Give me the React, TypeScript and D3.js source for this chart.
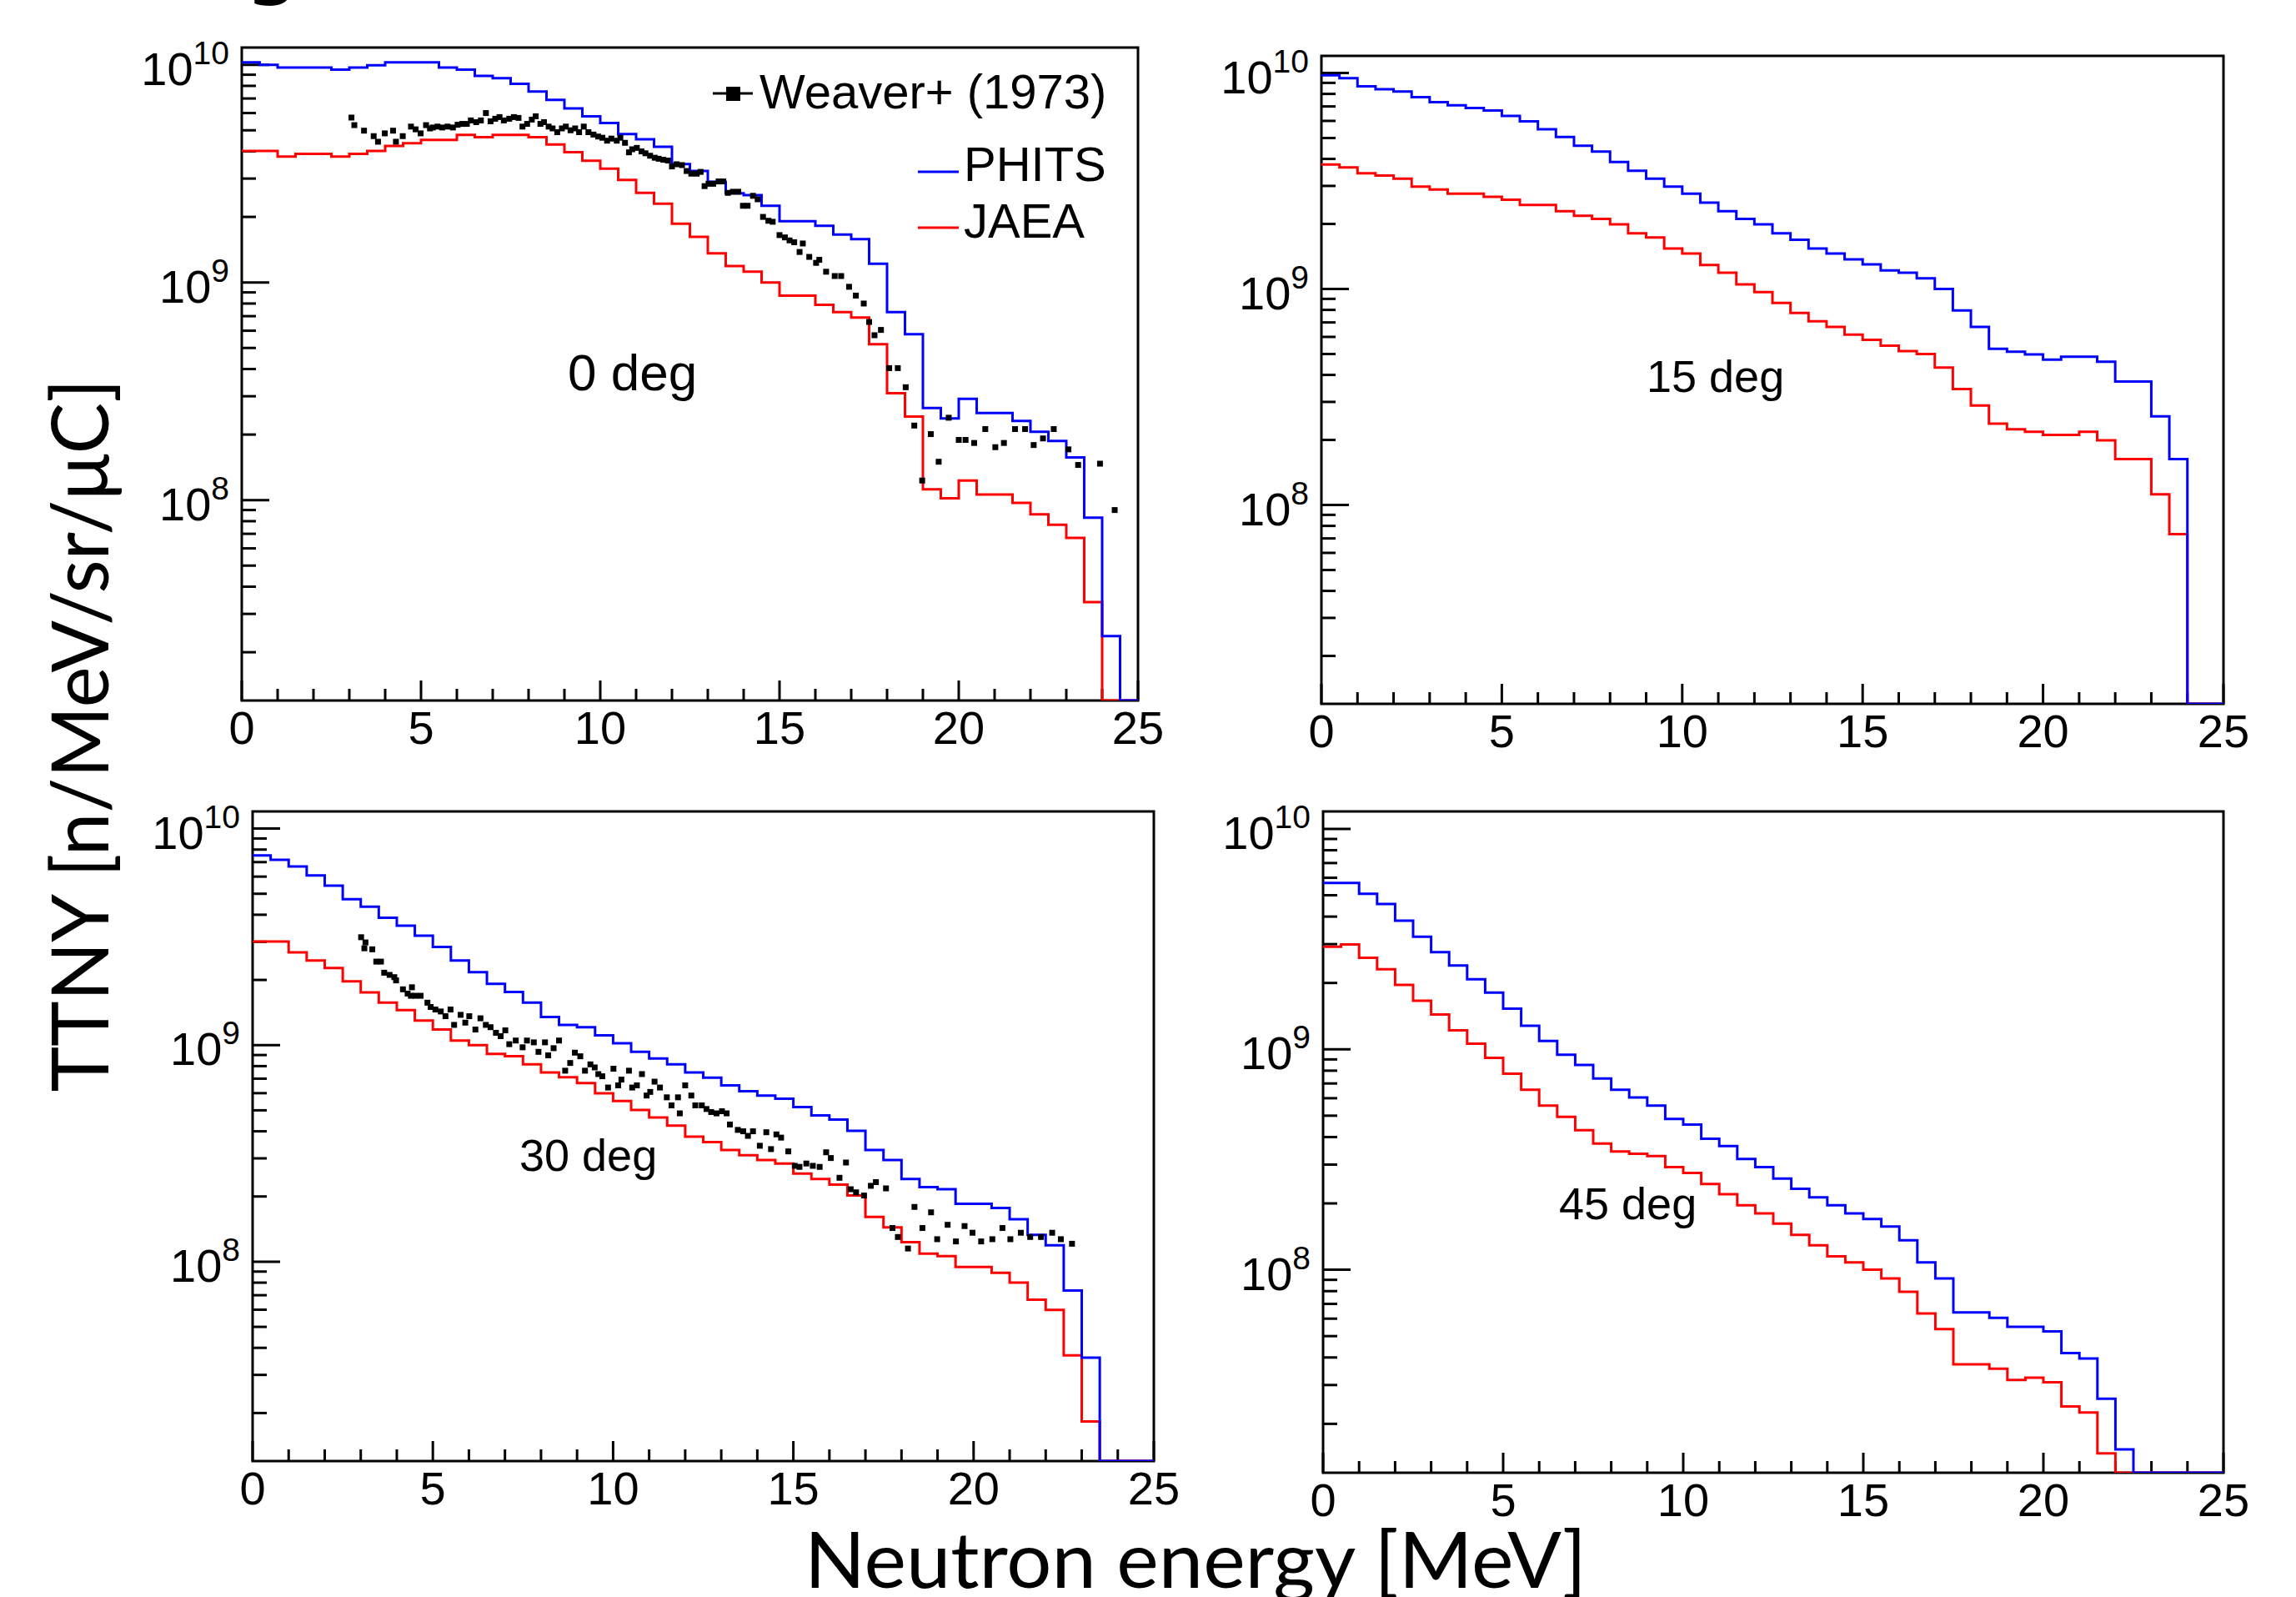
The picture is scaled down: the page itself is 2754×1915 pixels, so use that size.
import React, { useEffect } from 'react';
import * as d3 from 'd3';

// ---------------- data ----------------
const BIN_WIDTH = 0.5; // MeV
const E_DOMAIN: [number, number] = [0, 25];
const Y_DOMAIN: [number, number] = [1.2e7, 1.2e10];

const xMajorTicks = [0, 5, 10, 15, 20, 25];
const xTickLabels = ['0', '5', '10', '15', '20', '25'];
const xMinorTicks = [1, 2, 3, 4, 6, 7, 8, 9, 11, 12, 13, 14, 16, 17, 18, 19, 21, 22, 23, 24];
const yMajorExponents = [8, 9, 10];
const yMinorMultipliers = [2, 3, 4, 5, 6, 7, 8, 9];
const yMinorDecades = [1e7, 1e8, 1e9];

const angleLabels = ['0 deg', '15 deg', '30 deg', '45 deg'];
const legendLabels = ['Weaver+ (1973)', 'PHITS', 'JAEA'];
const xTitle = 'Neutron energy [MeV]';
const yTitle = 'TTNY [n/MeV/sr/\u03bcC]';

// 50 bins of 0.5 MeV, 0 = empty bin
const phits0 = [1.027e10, 1.0e10, 9.7e9, 9.7e9, 9.7e9, 9.5e9, 9.7e9, 9.95e9, 1.027e10, 1.027e10,
  1.027e10, 9.7e9, 9.5e9, 8.9e9, 8.67e9, 8.17e9, 7.53e9, 6.9e9, 6.3e9, 5.8e9,
  5.4e9, 4.8e9, 4.55e9, 4.2e9, 3.5e9, 3.25e9, 2.9e9, 2.57e9, 2.52e9, 2.25e9,
  1.91e9, 1.91e9, 1.82e9, 1.66e9, 1.58e9, 1.22e9, 7.3e8, 5.78e8, 2.65e8, 2.37e8,
  2.92e8, 2.51e8, 2.51e8, 2.31e8, 2.06e8, 1.87e8, 1.57e8, 8.3e7, 2.37e7, 0];
const jaea0 = [4.02e9, 4.02e9, 3.79e9, 3.9e9, 3.9e9, 3.79e9, 3.9e9, 4.02e9, 4.24e9, 4.36e9,
  4.52e9, 4.52e9, 4.76e9, 4.65e9, 4.76e9, 4.76e9, 4.65e9, 4.3e9, 3.97e9, 3.62e9,
  3.33e9, 2.96e9, 2.58e9, 2.3e9, 1.86e9, 1.62e9, 1.36e9, 1.19e9, 1.12e9, 1.0e9,
  8.7e8, 8.7e8, 7.9e8, 7.3e8, 6.9e8, 5.2e8, 3.1e8, 2.42e8, 1.12e8, 1.02e8,
  1.23e8, 1.06e8, 1.06e8, 9.7e7, 8.6e7, 7.7e7, 6.7e7, 3.4e7, 0, 0];

const phits15 = [9.75e9, 9.46e9, 8.67e9, 8.4e9, 8.2e9, 7.73e9, 7.33e9, 7.09e9, 6.89e9, 6.7e9,
  6.33e9, 5.97e9, 5.49e9, 5.05e9, 4.6e9, 4.33e9, 3.87e9, 3.53e9, 3.24e9, 2.98e9,
  2.76e9, 2.51e9, 2.29e9, 2.11e9, 1.99e9, 1.81e9, 1.69e9, 1.54e9, 1.46e9, 1.37e9,
  1.3e9, 1.22e9, 1.19e9, 1.12e9, 1.0e9, 7.96e8, 6.67e8, 5.28e8, 5.12e8, 4.98e8,
  4.71e8, 4.86e8, 4.86e8, 4.6e8, 3.73e8, 3.73e8, 2.57e8, 1.63e8, 0, 0];
const jaea15 = [3.77e9, 3.65e9, 3.43e9, 3.35e9, 3.24e9, 2.98e9, 2.89e9, 2.76e9, 2.76e9, 2.67e9,
  2.59e9, 2.45e9, 2.45e9, 2.29e9, 2.18e9, 2.11e9, 1.99e9, 1.81e9, 1.73e9, 1.54e9,
  1.46e9, 1.29e9, 1.19e9, 1.05e9, 9.68e8, 8.61e8, 7.74e8, 7.09e8, 6.67e8, 6.14e8,
  5.81e8, 5.46e8, 5.16e8, 5.0e8, 4.33e8, 3.44e8, 2.89e8, 2.38e8, 2.24e8, 2.18e8,
  2.11e8, 2.11e8, 2.18e8, 1.99e8, 1.63e8, 1.63e8, 1.12e8, 7.33e7, 0, 0];

const phits30 = [7.52e9, 7.18e9, 6.68e9, 6.08e9, 5.45e9, 4.72e9, 4.36e9, 3.87e9, 3.56e9, 3.2e9,
  2.84e9, 2.46e9, 2.17e9, 1.92e9, 1.76e9, 1.57e9, 1.35e9, 1.24e9, 1.21e9, 1.11e9,
  1.02e9, 9.31e8, 8.67e8, 8.15e8, 7.48e8, 7.07e8, 6.52e8, 6.13e8, 5.85e8, 5.66e8,
  5.17e8, 4.74e8, 4.53e8, 4.02e8, 3.28e8, 2.95e8, 2.41e8, 2.21e8, 2.16e8, 1.85e8,
  1.85e8, 1.77e8, 1.57e8, 1.33e8, 1.19e8, 7.35e7, 3.6e7, 0, 0, 0];
const jaea30 = [3.01e9, 3.01e9, 2.68e9, 2.46e9, 2.27e9, 1.97e9, 1.75e9, 1.57e9, 1.45e9, 1.3e9,
  1.18e9, 1.05e9, 1.0e9, 9.1e8, 8.88e8, 8.15e8, 7.48e8, 7.1e8, 6.68e8, 5.99e8,
  5.52e8, 5.02e8, 4.63e8, 4.25e8, 3.78e8, 3.57e8, 3.28e8, 3.1e8, 2.95e8, 2.84e8,
  2.55e8, 2.41e8, 2.27e8, 2.02e8, 1.61e8, 1.44e8, 1.23e8, 1.09e8, 1.06e8, 9.45e7,
  9.45e7, 8.88e7, 8.0e7, 6.68e7, 5.99e7, 3.69e7, 1.83e7, 0, 0, 0];

const phits45 = [5.69e9, 5.69e9, 5.08e9, 4.56e9, 3.83e9, 3.24e9, 2.76e9, 2.4e9, 2.08e9, 1.81e9,
  1.53e9, 1.28e9, 1.09e9, 9.46e8, 8.49e8, 7.37e8, 6.55e8, 6.05e8, 5.56e8, 4.83e8,
  4.56e8, 3.93e8, 3.64e8, 3.18e8, 2.92e8, 2.59e8, 2.33e8, 2.13e8, 1.96e8, 1.8e8,
  1.7e8, 1.57e8, 1.36e8, 1.08e8, 9.14e7, 6.4e7, 6.4e7, 6.05e7, 5.51e7, 5.51e7,
  5.25e7, 4.19e7, 3.96e7, 2.6e7, 1.53e7, 0, 0, 0, 0, 0];
const jaea45 = [2.92e9, 2.99e9, 2.6e9, 2.31e9, 1.96e9, 1.66e9, 1.44e9, 1.22e9, 1.06e9, 9.14e8,
  7.76e8, 6.55e8, 5.56e8, 4.94e8, 4.3e8, 3.74e8, 3.44e8, 3.36e8, 3.28e8, 2.92e8,
  2.75e8, 2.45e8, 2.2e8, 1.96e8, 1.8e8, 1.62e8, 1.44e8, 1.29e8, 1.15e8, 1.08e8,
  1.0e8, 9.14e7, 7.94e7, 6.34e7, 5.38e7, 3.72e7, 3.72e7, 3.56e7, 3.16e7, 3.24e7,
  3.09e7, 2.4e7, 2.25e7, 1.47e7, 0, 0, 0, 0, 0, 0];

// Weaver+ (1973) measured points: [energy MeV, yield]
const weaver0: [number, number][] = [
  [3.06, 5.72e9], [3.14, 5.28e9], [3.41, 4.98e9], [3.68, 4.7e9], [3.8, 4.43e9], [3.99, 4.84e9],
  [4.22, 4.98e9], [4.3, 4.43e9], [4.49, 4.7e9], [4.72, 5.2e9], [4.85, 5.05e9], [4.99, 4.84e9],
  [5.14, 5.28e9], [5.25, 5.1e9], [5.33, 5.15e9], [5.46, 5.2e9], [5.59, 5.15e9], [5.74, 5.2e9],
  [5.89, 5.15e9], [6.02, 5.3e9], [6.15, 5.35e9], [6.28, 5.35e9], [6.39, 5.55e9], [6.54, 5.45e9],
  [6.67, 5.55e9], [6.81, 6.0e9], [6.94, 5.5e9], [7.07, 5.65e9], [7.19, 5.75e9], [7.31, 5.55e9],
  [7.46, 5.65e9], [7.59, 5.75e9], [7.72, 5.7e9], [7.83, 5.2e9], [7.96, 5.35e9], [8.09, 5.6e9],
  [8.2, 5.8e9], [8.33, 5.35e9], [8.43, 5.45e9], [8.56, 5.2e9], [8.67, 5.1e9], [8.8, 4.9e9],
  [8.93, 5.1e9], [9.04, 5.2e9], [9.17, 5.0e9], [9.3, 5.1e9], [9.41, 4.9e9], [9.54, 5.2e9],
  [9.67, 4.9e9], [9.81, 4.78e9], [9.94, 4.68e9], [10.06, 4.62e9], [10.19, 4.48e9], [10.31, 4.58e9],
  [10.46, 4.48e9], [10.56, 4.62e9], [10.69, 4.38e9], [10.8, 3.96e9], [10.89, 4.09e9], [11.02, 4.15e9],
  [11.15, 4.0e9], [11.26, 3.92e9], [11.39, 3.82e9], [11.52, 3.74e9], [11.63, 3.7e9], [11.76, 3.66e9],
  [11.89, 3.63e9], [12.0, 3.41e9], [12.13, 3.49e9], [12.28, 3.46e9], [12.41, 3.25e9], [12.54, 3.16e9],
  [12.69, 3.16e9], [12.8, 3.22e9], [12.91, 2.77e9], [13.02, 2.84e9], [13.15, 2.84e9], [13.3, 2.91e9],
  [13.43, 2.91e9], [13.56, 2.58e9], [13.7, 2.61e9], [13.85, 2.61e9], [13.98, 2.25e9], [14.11, 2.25e9],
  [14.26, 2.5e9], [14.39, 2.41e9], [14.54, 2.0e9], [14.69, 1.92e9], [14.81, 1.9e9], [15.0, 1.65e9],
  [15.15, 1.61e9], [15.28, 1.56e9], [15.41, 1.53e9], [15.56, 1.38e9], [15.65, 1.51e9], [15.83, 1.31e9],
  [16.02, 1.23e9], [16.11, 1.27e9], [16.3, 1.12e9], [16.54, 1.07e9], [16.72, 1.07e9], [16.94, 9.55e8],
  [17.13, 8.7e8], [17.35, 8.0e8], [17.5, 6.58e8], [17.65, 5.72e8], [17.83, 6.05e8], [18.06, 4.04e8],
  [18.3, 4.04e8], [18.52, 3.3e8], [18.76, 2.2e8], [18.98, 1.23e8], [19.22, 2.01e8], [19.44, 1.5e8],
  [19.72, 2.39e8], [20.0, 1.89e8], [20.19, 1.89e8], [20.43, 1.83e8], [20.74, 2.12e8], [21.02, 1.75e8],
  [21.26, 1.83e8], [21.57, 2.12e8], [21.85, 2.12e8], [22.09, 1.79e8], [22.35, 1.92e8], [22.65, 2.12e8],
  [23.06, 1.71e8], [23.33, 1.45e8], [23.94, 1.47e8], [24.35, 9.0e7]];

const weaver30: [number, number][] = [
  [3.01, 3.15e9], [3.13, 2.98e9], [3.10, 2.8e9], [3.32, 2.77e9], [3.43, 2.43e9], [3.56, 2.43e9],
  [3.65, 2.16e9], [3.80, 2.11e9], [3.93, 2.06e9], [3.98, 1.99e9], [4.17, 1.81e9], [4.3, 1.73e9],
  [4.42, 1.85e9], [4.39, 1.69e9], [4.52, 1.69e9], [4.66, 1.69e9], [4.85, 1.57e9], [4.94, 1.5e9],
  [5.07, 1.46e9], [5.22, 1.43e9], [5.35, 1.36e9], [5.49, 1.46e9], [5.59, 1.24e9], [5.77, 1.38e9],
  [5.9, 1.27e9], [6.01, 1.36e9], [6.18, 1.18e9], [6.32, 1.33e9], [6.47, 1.24e9], [6.6, 1.21e9],
  [6.75, 1.14e9], [6.88, 1.1e9], [7.01, 1.17e9], [7.12, 1.01e9], [7.3, 1.05e9], [7.49, 9.77e8],
  [7.61, 1.05e9], [7.8, 1.03e9], [7.93, 9.31e8], [8.11, 1.03e9], [8.2, 8.97e8], [8.35, 9.68e8],
  [8.5, 1.05e9], [8.67, 7.62e8], [8.81, 8.27e8], [8.94, 9.23e8], [9.09, 8.88e8], [9.22, 7.62e8],
  [9.37, 8.15e8], [9.49, 7.89e8], [9.59, 7.35e8], [9.7, 7.18e8], [9.86, 6.37e8], [10.01, 7.78e8],
  [10.14, 6.52e8], [10.23, 6.93e8], [10.44, 7.62e8], [10.53, 6.37e8], [10.66, 6.52e8], [10.8, 7.35e8],
  [10.93, 5.85e8], [11.03, 6.08e8], [11.15, 6.78e8], [11.3, 6.37e8], [11.49, 5.74e8], [11.62, 5.27e8],
  [11.8, 5.74e8], [11.85, 4.84e8], [12.0, 6.52e8], [12.17, 5.85e8], [12.28, 5.27e8], [12.46, 5.27e8],
  [12.59, 5.07e8], [12.72, 4.91e8], [12.87, 4.84e8], [13.02, 4.95e8], [13.15, 4.84e8], [13.24, 4.3e8],
  [13.46, 4.06e8], [13.61, 4.0e8], [13.74, 3.81e8], [13.88, 4.0e8], [14.07, 3.43e8], [14.25, 3.96e8],
  [14.38, 3.31e8], [14.53, 3.87e8], [14.66, 3.74e8], [14.86, 3.23e8], [15.04, 2.77e8], [15.17, 2.74e8],
  [15.36, 2.84e8], [15.54, 2.77e8], [15.73, 2.74e8], [15.91, 3.2e8], [16.04, 3.01e8], [16.28, 2.44e8],
  [16.46, 2.87e8], [16.59, 2.16e8], [16.74, 2.09e8], [16.96, 2.02e8], [17.15, 2.24e8], [17.29, 2.33e8],
  [17.57, 2.18e8], [17.75, 1.43e8], [17.9, 1.3e8], [18.18, 1.15e8], [18.36, 1.79e8], [18.58, 1.43e8],
  [18.82, 1.69e8], [18.99, 1.27e8], [19.28, 1.48e8], [19.51, 1.24e8], [19.75, 1.46e8], [19.97, 1.36e8],
  [20.21, 1.24e8], [20.52, 1.27e8], [20.8, 1.43e8], [21.02, 1.27e8], [21.31, 1.36e8], [21.57, 1.3e8],
  [21.87, 1.3e8], [22.18, 1.36e8], [22.42, 1.27e8], [22.73, 1.21e8]];

// ---------------- layout ----------------
const W = 2754;
const H = 1915;
const BLUE = '#0000ff';
const RED = '#ff0000';
const TICK_FONT = "'Liberation Sans', Arial, Helvetica, sans-serif";
const TITLE_FONT = "Lato, 'Noto Sans', sans-serif";

type PanelCfg = {
  left: number; right: number; top: number; bottom: number;
  labelX: number; labelY: number; labelSize: number;
  phits: number[]; jaea: number[]; weaver: [number, number][] | null; legend: boolean;
};

const panels: PanelCfg[] = [
  { left: 290, right: 1365, top: 57, bottom: 840, labelX: 681, labelY: 468, labelSize: 62, phits: phits0, jaea: jaea0, weaver: weaver0, legend: true },
  { left: 1585, right: 2667, top: 67, bottom: 844, labelX: 1975, labelY: 470, labelSize: 54, phits: phits15, jaea: jaea15, weaver: null, legend: false },
  { left: 303, right: 1384, top: 973, bottom: 1752, labelX: 623, labelY: 1404, labelSize: 54, phits: phits30, jaea: jaea30, weaver: weaver30, legend: false },
  { left: 1587, right: 2667, top: 973, bottom: 1766, labelX: 1870, labelY: 1462, labelSize: 54, phits: phits45, jaea: jaea45, weaver: null, legend: false },
];

function histPath(vals: number[], x: d3.ScaleLinear<number, number>, y: d3.ScaleLogarithmic<number, number>) {
  const pts: [number, number][] = vals.map((v, i) => [i * BIN_WIDTH, v]);
  pts.push([E_DOMAIN[1], vals[vals.length - 1]]);
  const line = d3.line<[number, number]>()
    .x(d => x(d[0]))
    .y(d => y(d[1] > 0 ? d[1] : Y_DOMAIN[0] * 0.5))
    .curve(d3.curveStepAfter);
  return line(pts) || '';
}

function Panel({ cfg, idx }: { cfg: PanelCfg; idx: number }) {
  const x = d3.scaleLinear().domain(E_DOMAIN).range([cfg.left, cfg.right]);
  const y = d3.scaleLog().domain(Y_DOMAIN).range([cfg.bottom, cfg.top]).clamp(true);
  const clipId = `clip-${idx}`;
  const minorY: number[] = [];
  yMinorDecades.forEach(d => yMinorMultipliers.forEach(m => {
    const v = d * m;
    if (v > Y_DOMAIN[0] && v < Y_DOMAIN[1]) minorY.push(v);
  }));
  return (
    <g>
      <defs>
        <clipPath id={clipId}>
          <rect x={cfg.left} y={cfg.top} width={cfg.right - cfg.left} height={cfg.bottom - cfg.top} />
        </clipPath>
      </defs>
      {/* frame */}
      <rect x={cfg.left} y={cfg.top} width={cfg.right - cfg.left} height={cfg.bottom - cfg.top}
        fill="none" stroke="#000" strokeWidth={3} />
      {/* x ticks */}
      {xMajorTicks.map(t => (
        <line key={`xM${t}`} x1={x(t)} x2={x(t)} y1={cfg.bottom} y2={cfg.bottom - 24} stroke="#000" strokeWidth={3} />
      ))}
      {xMinorTicks.map(t => (
        <line key={`xm${t}`} x1={x(t)} x2={x(t)} y1={cfg.bottom} y2={cfg.bottom - 14} stroke="#000" strokeWidth={3} />
      ))}
      {xMajorTicks.map((t, i) => (
        <text key={`xl${t}`} x={x(t)} y={cfg.bottom + 52} textAnchor="middle" fontFamily={TICK_FONT} fontSize={56}>
          {xTickLabels[i]}
        </text>
      ))}
      {/* y ticks */}
      {yMajorExponents.map(e => (
        <line key={`yM${e}`} x1={cfg.left} x2={cfg.left + 33} y1={y(Math.pow(10, e))} y2={y(Math.pow(10, e))} stroke="#000" strokeWidth={3} />
      ))}
      {minorY.map(v => (
        <line key={`ym${v}`} x1={cfg.left} x2={cfg.left + 17} y1={y(v)} y2={y(v)} stroke="#000" strokeWidth={3} />
      ))}
      {yMajorExponents.map(e => (
        <text key={`yl${e}`} x={cfg.left - 15} y={y(Math.pow(10, e)) + 24} textAnchor="end" fontFamily={TICK_FONT} fontSize={56}>
          10<tspan dy={-25} fontSize={39}>{String(e)}</tspan>
        </text>
      ))}
      {/* histograms */}
      <g clipPath={`url(#${clipId})`}>
        <path d={histPath(cfg.jaea, x, y)} fill="none" stroke={RED} strokeWidth={3} />
        <path d={histPath(cfg.phits, x, y)} fill="none" stroke={BLUE} strokeWidth={3} />
        {cfg.weaver && cfg.weaver.map((p, i) => (
          <rect key={`w${i}`} x={x(p[0]) - 3.5} y={y(p[1]) - 3.5} width={7} height={7} fill="#000" />
        ))}
      </g>
      {/* angle label */}
      <text x={cfg.labelX} y={cfg.labelY} fontFamily={TICK_FONT} fontSize={cfg.labelSize}>{angleLabels[idx]}</text>
      {cfg.legend && (
        <g fontFamily={TICK_FONT} fontSize={58}>
          <line x1={855} x2={903} y1={112} y2={112} stroke="#000" strokeWidth={3} />
          <rect x={871} y={104} width={17} height={17} fill="#000" />
          <text x={911} y={130}>{legendLabels[0]}</text>
          <line x1={1101} x2={1150} y1={206} y2={206} stroke={BLUE} strokeWidth={3} />
          <text x={1156} y={217}>{legendLabels[1]}</text>
          <line x1={1101} x2={1150} y1={273} y2={273} stroke={RED} strokeWidth={3} />
          <text x={1156} y={285}>{legendLabels[2]}</text>
        </g>
      )}
    </g>
  );
}

export default function App() {
  useEffect(() => {
    document.body.style.margin = '0';
    document.body.style.background = '#fff';
  }, []);
  return (
    <div style={{ position: 'absolute', left: 0, top: 0, width: W, height: H, background: '#fff' }}>
      <svg width={W} height={H} viewBox={`0 0 ${W} ${H}`} style={{ display: 'block' }}>
        <rect x={0} y={0} width={W} height={H} fill="#fff" />
        <text x={222} y={-15} fontFamily="'Noto Sans', sans-serif" fontWeight="bold" fontSize={90}>Fig.</text>
        {panels.map((p, i) => <Panel key={i} cfg={p} idx={i} />)}
        <text x={1434} y={1904} textAnchor="middle" fontFamily={TITLE_FONT} fontSize={94}
          textLength={938} lengthAdjust="spacingAndGlyphs">{xTitle}</text>
        <text transform="translate(130,882) rotate(-90)" textAnchor="middle" fontFamily={TITLE_FONT} fontSize={95}
          textLength={855} lengthAdjust="spacingAndGlyphs">{yTitle}</text>
      </svg>
    </div>
  );
}
